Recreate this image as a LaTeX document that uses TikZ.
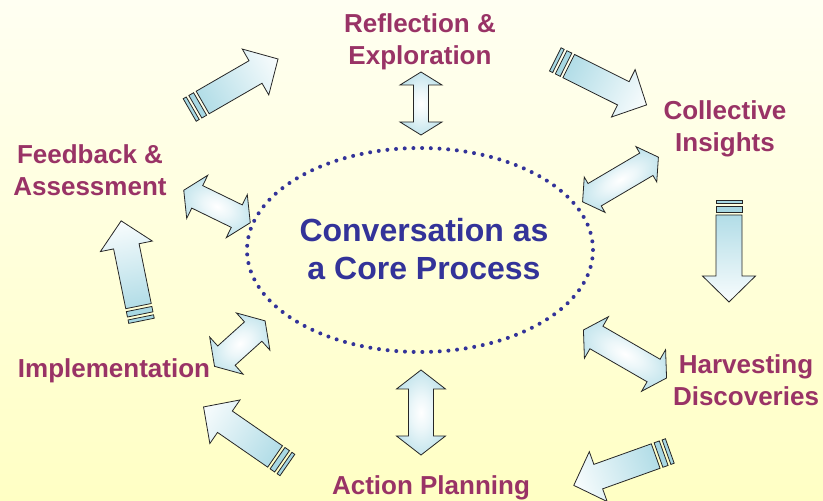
\documentclass[tikz,border=0pt]{standalone}
\usepackage{fontspec}
\setmainfont{Liberation Sans}
\usetikzlibrary{calc}
\definecolor{bgtop}{RGB}{255,255,242}
\definecolor{bgbot}{RGB}{255,255,196}
\definecolor{acyan}{RGB}{178,221,231}
\definecolor{stripecol}{RGB}{168,216,227}
\definecolor{labelcol}{RGB}{153,51,102}
\definecolor{corecol}{RGB}{51,51,153}
\pgfdeclareradialshading{dblshade}{\pgfpoint{0bp}{0bp}}{color(0bp)=(white); color(10bp)=(white!75!acyan); color(32bp)=(acyan); color(50bp)=(acyan)}
\tikzset{
  arrowline/.style={draw=black!85, line width=0.8pt, line join=miter},
  lbl/.style={text=labelcol, font=\bfseries\fontsize{26}{32}\selectfont, align=center, inner sep=0pt},
  core/.style={text=corecol, font=\bfseries\fontsize{32}{38}\selectfont, align=center, inner sep=0pt},
}
% striped arrow: tail x, tail y, angle
\newcommand\stripedarrow[3]{%
  \begin{scope}[transform canvas={shift={(#1,#2)},rotate=#3}]
    \draw[arrowline, fill=stripecol] (0,-13) rectangle (3.5,13);
    \draw[arrowline, fill=stripecol] (6.5,-13) rectangle (12,13);
    \draw[arrowline, left color=acyan, right color=white!92!acyan]
      (15,-13) -- (76,-13) -- (76,-26.5) -- (102,0) -- (76,26.5) -- (76,13) -- (15,13) -- cycle;
  \end{scope}}
% double arrow: cx, cy, angle, half length, head length, head half width, shaft half width
\newcommand\dblarrow[7]{%
  \begin{scope}[transform canvas={shift={(#1,#2)},rotate=#3}]
    \draw[arrowline, shade, shading=dblshade]
      (-#4,0) -- ({-#4+#5},#6) -- ({-#4+#5},#7) -- ({#4-#5},#7) -- ({#4-#5},#6) -- (#4,0)
      -- ({#4-#5},-#6) -- ({#4-#5},-#7) -- ({-#4+#5},-#7) -- ({-#4+#5},-#6) -- cycle;
  \end{scope}}
\begin{document}
\begin{tikzpicture}[x=1pt,y=1pt]
\useasboundingbox (0,0) rectangle (823,501);
\shade[top color=bgtop, bottom color=bgbot] (0,0) rectangle (823,501);
% core ellipse
\draw[corecol, line width=4pt, line cap=round, dash pattern=on 0pt off 8.7pt] (420,251) ellipse [x radius=173, y radius=102];
% striped arrows
\stripedarrow{189.7}{391}{30}
\stripedarrow{555.3}{441.6}{-26.5}
\stripedarrow{729}{301}{-90}
\stripedarrow{669.8}{50}{199.7}
\stripedarrow{287.4}{36}{145.3}
\stripedarrow{141.5}{180.2}{101.5}
% double arrows
\dblarrow{421}{397.5}{90}{31.5}{13}{21}{7.5}
\dblarrow{620.5}{321.5}{30.5}{44}{14}{20.5}{13}
\dblarrow{625}{147}{-30}{48}{15}{24}{13}
\dblarrow{421}{88.5}{90}{42.5}{19}{24.5}{12.5}
\dblarrow{239.8}{157.4}{42}{34}{16}{25}{13}
\dblarrow{217}{294.5}{-26}{37}{15}{24}{12.5}
% texts
\node[core] (core) at (424,252.2) {Conversation as\\a Core Process};
\node[lbl] (reflect) at (420,458.8) {Reflection \&\\Exploration};
\node[lbl] (collect) at (725,372) {Collective\\Insights};
\node[lbl] (harvest) at (746,121.2) {Harvesting\\Discoveries};
\node[lbl, anchor=base] (action) at (431,6.7) {Action Planning};
\node[lbl, anchor=base] (implement) at (114,123.7) {Implementation};
\node[lbl] (feedback) at (90,330.7) {Feedback \&\\Assessment};
\end{tikzpicture}
\end{document}
